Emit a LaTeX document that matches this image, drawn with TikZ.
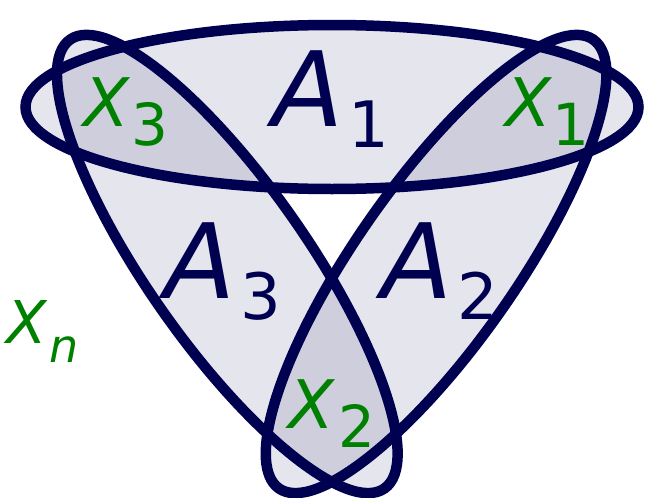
\documentclass[tikz,border=0pt]{standalone}
\usepackage{fontspec}
\setmainfont{DejaVu Sans}
\definecolor{navy}{RGB}{0,0,80}
\definecolor{xgreen}{RGB}{0,128,0}
\begin{document}
\begin{tikzpicture}[x=1pt,y=-1pt,
  setfill/.style={fill=navy, fill opacity=0.1},
  setline/.style={draw=navy, line width=10.5pt},
  biglab/.style={anchor=base west, inner sep=0pt, text=navy, font=\fontsize{104}{104}\selectfont\itshape},
  bigsub/.style={anchor=base west, inner sep=0pt, text=navy, font=\fontsize{64}{64}\selectfont},
  ptlab/.style={anchor=base west, inner sep=0pt, text=xgreen, font=\fontsize{67}{67}\selectfont\itshape},
  ptsub/.style={anchor=base west, inner sep=0pt, text=xgreen, font=\fontsize{58}{58}\selectfont}
]
\useasboundingbox (0,0) rectangle (649,498);
\coordinate (c1) at (332,107);
\coordinate (c2) at (436.1,264);
\coordinate (c3) at (227.3,264);
% fills
\fill[setfill] (c1) ellipse [x radius=306.5pt, y radius=82pt];
\fill[setfill, rotate around={55:(c2)}] (c2) ellipse [x radius=274pt, y radius=80pt];
\fill[setfill, rotate around={-55:(c3)}] (c3) ellipse [x radius=274pt, y radius=80pt];
% outlines
\draw[setline] (c1) ellipse [x radius=306.5pt, y radius=82pt];
\draw[setline, rotate around={55:(c2)}] (c2) ellipse [x radius=274pt, y radius=80pt];
\draw[setline, rotate around={-55:(c3)}] (c3) ellipse [x radius=274pt, y radius=80pt];
% set labels
\node[biglab] (a1) at (272,126) {A};
\node[bigsub] (a1s) at (348,147) {1};
\node[biglab] (a3) at (164,298) {A};
\node[bigsub] (a3s) at (240,319) {3};
\node[biglab] (a2) at (381,298) {A};
\node[bigsub] (a2s) at (457,319) {2};
% point labels
\node[ptlab] (x3) at (83,126) {X};
\node[ptsub] (x3s) at (131,145) {3};
\node[ptlab] (x1) at (505,126) {X};
\node[ptsub] (x1s) at (552,145) {1};
\node[ptlab] (x2) at (288,428) {X};
\node[ptsub] (x2s) at (338,447) {2};
\node[anchor=base west, inner sep=0pt, text=xgreen, font=\fontsize{59}{59}\selectfont\itshape] (xn) at (6,343) {X};
\node[anchor=base west, inner sep=0pt, text=xgreen, font=\fontsize{46}{46}\selectfont\itshape] (xns) at (49,362) {n};
\end{tikzpicture}
\end{document}
